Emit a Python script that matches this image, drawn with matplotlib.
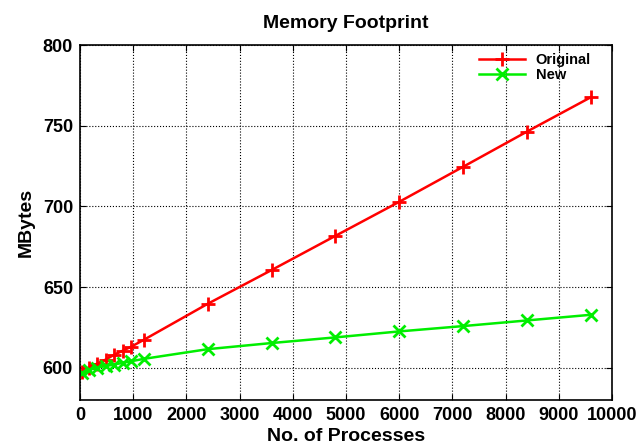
import matplotlib
matplotlib.use("Agg")
import matplotlib.pyplot as plt

procs = [32, 160, 320, 480, 640, 800, 960, 1200, 2400, 3600, 4800, 6000, 7200, 8400, 9600]
original = [597.5, 600, 602.5, 605, 608, 610.5, 613, 617.3, 639.6, 660.5, 681.7, 702.8, 724.5, 746.3, 767.6]
new = [597, 598.5, 600, 601, 602, 603, 604, 605.5, 611.5, 615.3, 618.8, 622.5, 625.8, 629.3, 632.8]

xticks = [0, 1000, 2000, 3000, 4000, 5000, 6000, 7000, 8000, 9000, 10000]
yticks = [600, 650, 700, 750, 800]

plt.rcParams['font.family'] = ['Liberation Sans', 'DejaVu Sans']
plt.rcParams['font.weight'] = 'bold'

fig = plt.figure(figsize=(6.44, 4.46), dpi=100)
ax = fig.add_axes([80/644, 1-400/446, (612-80)/644, (400-45)/446])

ax.plot(procs, original, color='#ff0000', lw=1.8, marker='+', ms=10, mew=2, label='Original')
ax.plot(procs, new, color='#00ee00', lw=1.8, marker='x', ms=9, mew=2, label='New')

ax.set_xlim(0, 10000)
ax.set_ylim(580, 800)
ax.set_xticks(xticks)
ax.set_yticks(yticks)
ax.tick_params(direction='in', top=True, right=True, labelsize=13, length=4, pad=5)
for lab in ax.get_xticklabels() + ax.get_yticklabels():
    lab.set_fontweight('bold')
ax.grid(True, color='black', linestyle=':', linewidth=0.8)
for s in ax.spines.values():
    s.set_linewidth(1.2)

ax.set_title('Memory Footprint', fontsize=14, fontweight='bold', pad=12)
ax.set_xlabel('No. of Processes', fontsize=14, fontweight='bold', labelpad=3)
ax.set_ylabel('MBytes', fontsize=14, fontweight='bold', labelpad=6)

leg = ax.legend(loc='upper left', bbox_to_anchor=(0.726, 1.012), frameon=False, fontsize=10.5,
                handlelength=3.2, handletextpad=0.7, borderpad=0.35, labelspacing=0.05)
for t in leg.get_texts():
    t.set_fontweight('bold')

fig.savefig('out.png', dpi=100)
